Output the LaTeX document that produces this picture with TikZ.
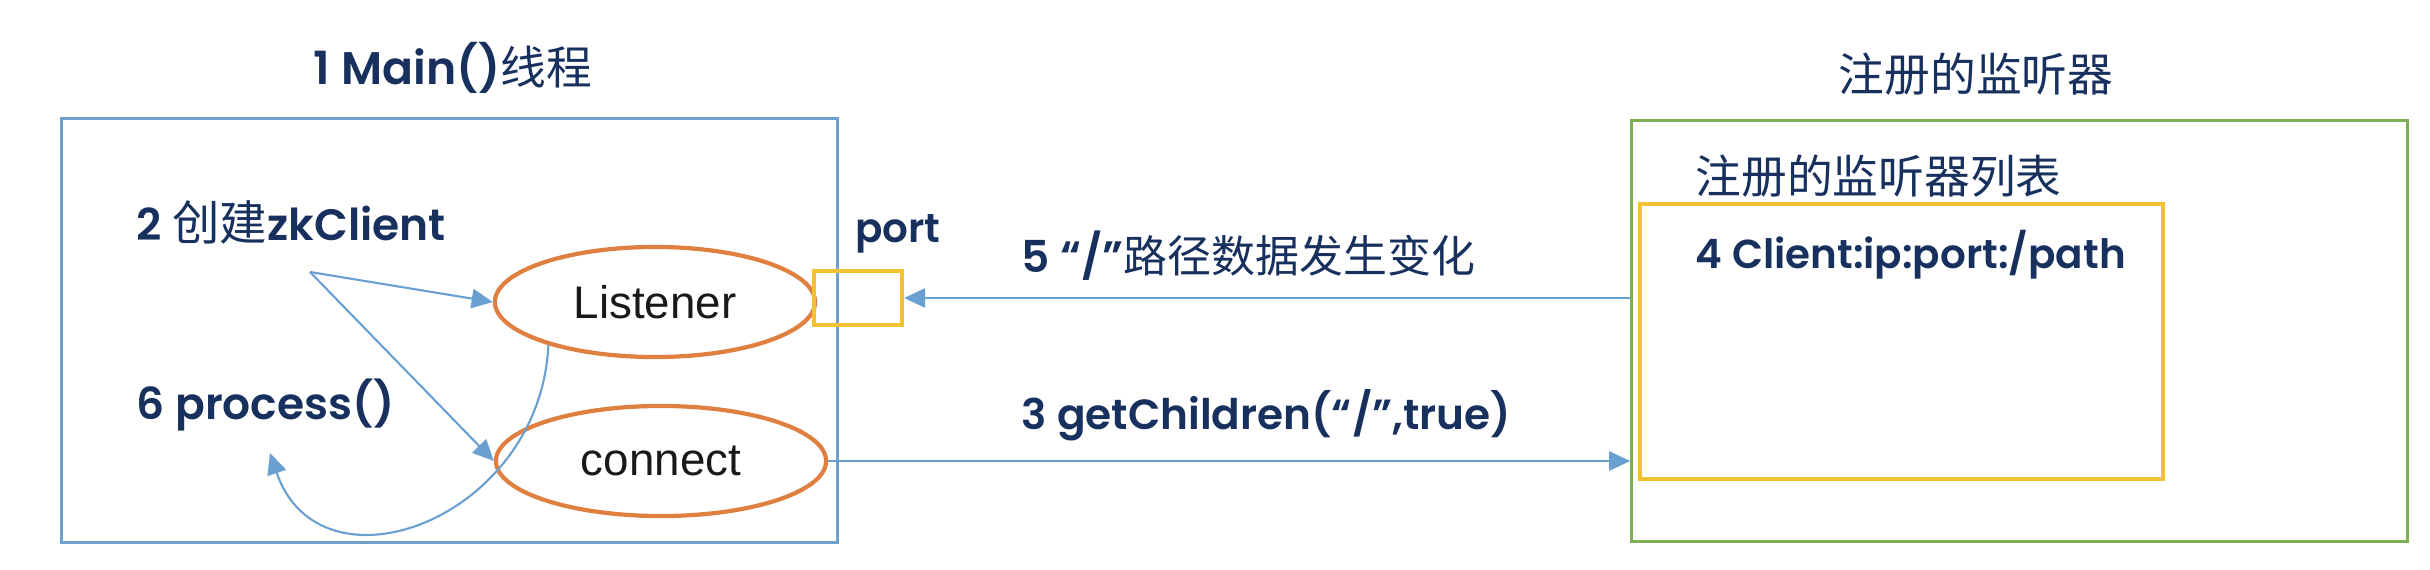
\documentclass[tikz,border=0pt]{standalone}
\usepackage{fontspec}
\setmainfont{Poppins}[BoldFont={* SemiBold}]
\newfontfamily\cjk{Noto Sans CJK SC}
\newfontfamily\arialfont{Liberation Sans}
\usetikzlibrary{shapes.geometric, arrows.meta, positioning}
\definecolor{navy}{HTML}{17305E}
\definecolor{boxblue}{HTML}{6F9FCB}
\definecolor{linkblue}{HTML}{6A9FD2}
\definecolor{lsorange}{HTML}{E08040}
\definecolor{portyellow}{HTML}{F2C232}
\definecolor{reggreen}{HTML}{80AE52}
\newcommand{\zh}[1]{{\cjk\mdseries #1}}

\begin{document}
\begin{tikzpicture}[
  x=0.01cm, y=-0.01cm,
  node distance=0.15cm,
  frame/.style={rectangle, draw=#1, line width=0.9pt, inner sep=0pt},
  inner/.style={rectangle, draw=portyellow, line width=1.2pt, inner sep=0pt},
  oval/.style={ellipse, draw=lsorange, line width=1.2pt, inner sep=0pt, minimum height=1.1cm, font=\arialfont\fontsize{13}{15}\selectfont, text=black!90},
  lbl/.style={inner sep=0pt, anchor=west, text=navy, font=\fontsize{12.5}{15}\selectfont\bfseries},
  title/.style={inner sep=0pt, text=navy, font=\fontsize{13}{16}\selectfont\bfseries},
  arrow/.style={draw=linkblue, line width=0.6pt, -{Triangle[length=6pt, width=5.5pt, fill=linkblue]}}
]
\useasboundingbox (0,0) rectangle (2430,570);

% Main thread
\node (main) [frame=boxblue, minimum width=7.75cm, minimum height=4.23cm] at (449.5,330.5) {};
\node (maintitle) [title] at (453,68) {1 Main()\zh{线程}};
\node (create) [lbl] at (136,222) {2 \zh{\fontsize{13.5}{16}\selectfont 创建}zkClient};
\node (process) [lbl] at (136,405) {6 process()};
\node (listener) [oval, minimum width=3.2cm] at (655,302) {Listener};
\node (connect) [oval, minimum width=3.3cm] at (661,461) {connect};
\node (port) [inner, minimum width=0.88cm, minimum height=0.54cm] at (858,298) {};
\node (portlbl) [title, font=\fontsize{11.5}{14}\selectfont\bfseries, above=of port, xshift=0.4cm] {port};

% Registered listeners
\node (reg) [frame=reggreen, minimum width=7.75cm, minimum height=4.21cm] at (2019.5,331) {};
\node (regtitle) [title, font=\fontsize{13}{16}\selectfont] at (1976,74) {\zh{注册的监听器}};
\node (reglist) [lbl, font=\fontsize{13}{16}\selectfont] at (1695,176) {\zh{注册的监听器列表}};
\node (table) [inner, minimum width=5.23cm, minimum height=2.75cm] at (1901.5,341.5) {};
\node (entry) [lbl, font=\fontsize{11.5}{14}\selectfont\bfseries] at (1695,255) {4 Client:ip:port:/path};

% Arrows
\coordinate (fork) at (310,272);
\draw [arrow] (fork) -- (listener.west);
\draw [arrow] (fork) -- (connect.west);
\draw [arrow] (listener.202) .. controls (540,520) and (320,600) .. (270,453);
\draw [arrow] (connect.east) -- (connect.east -| reg.west)
  node (getlbl) [lbl, font=\fontsize{12}{15}\selectfont\bfseries, pos=0.24, yshift=0.46cm] {3 getChildren(“/”,true)};
\draw [arrow] (reg.west |- port.east) -- (port.east)
  node (changelbl) [lbl, pos=0.84, yshift=0.42cm] {5 “/”\zh{路径数据发生变化}};
\end{tikzpicture}
\end{document}
